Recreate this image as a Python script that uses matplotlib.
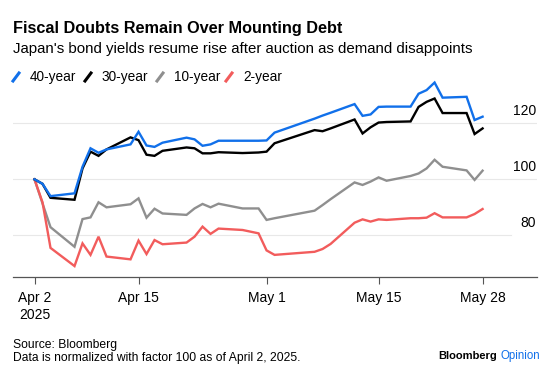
import pandas as pd
import matplotlib
matplotlib.use("Agg")
import matplotlib.pyplot as plt
from matplotlib.lines import Line2D

plt.rcParams['font.family'] = ['Liberation Sans', 'DejaVu Sans']

# trading days (Japan), Apr 2 - May 28 2025
dates = ["2025-04-02", "2025-04-03", "2025-04-04", "2025-04-07", "2025-04-08", "2025-04-09",
         "2025-04-10", "2025-04-11", "2025-04-14", "2025-04-15", "2025-04-16", "2025-04-17",
         "2025-04-18", "2025-04-21", "2025-04-22", "2025-04-23", "2025-04-24", "2025-04-25",
         "2025-04-28", "2025-04-30", "2025-05-01", "2025-05-02", "2025-05-07", "2025-05-08",
         "2025-05-09", "2025-05-12", "2025-05-13", "2025-05-14", "2025-05-15", "2025-05-16",
         "2025-05-19", "2025-05-20", "2025-05-21", "2025-05-22", "2025-05-23", "2025-05-26",
         "2025-05-27", "2025-05-28"]

y40 = [100, 98.4, 94.0, 95.0, 104.5, 111.1, 109.5, 110.7, 112.5, 117.0, 112.1, 111.6,
       113.1, 114.9, 114.3, 112.0, 112.5, 113.8, 113.8, 113.8, 113.9, 116.7, 121.7, 122.8,
       123.8, 126.9, 122.7, 123.2, 125.9, 126.0, 126.0, 130.6, 131.9, 134.6, 129.2, 129.5,
       121.2, 122.4]
y30 = [100, 98.4, 93.4, 92.7, 103.9, 109.9, 108.4, 110.7, 115.0, 114.0, 108.8, 108.4,
       110.2, 111.4, 111.1, 109.3, 109.3, 109.7, 109.4, 109.6, 109.9, 112.9, 117.6, 117.2,
       118.2, 121.4, 116.4, 118.6, 120.3, 120.5, 120.7, 125.9, 127.7, 128.9, 123.7, 123.7,
       116.2, 118.2]
y10 = [100, 91.4, 82.9, 75.9, 85.8, 86.4, 91.8, 90.0, 91.1, 93.2, 86.3, 89.5,
       87.8, 87.3, 89.6, 91.2, 90.0, 91.3, 89.6, 89.6, 85.5, 86.1, 88.8, 90.8,
       92.9, 98.9, 98.0, 99.2, 100.7, 99.5, 101.2, 102.1, 103.9, 107.0, 104.5, 103.2,
       99.8, 103.1]
y2 = [100, 91.8, 75.5, 69.0, 77.1, 73.0, 79.5, 72.4, 71.4, 78.1, 73.3, 78.3,
      76.8, 77.4, 79.5, 83.1, 80.5, 82.4, 81.9, 80.7, 74.6, 73.0, 74.1, 75.1,
      76.9, 84.5, 85.7, 84.9, 85.7, 85.5, 86.1, 86.1, 86.3, 87.9, 86.4, 86.4,
      87.6, 89.4]

labels = ["40-year", "30-year", "10-year", "2-year"]
colors = ["#1170ea", "#000000", "#8f8f8f", "#f25c5c"]
series = [y40, y30, y10, y2]

yticks = [80, 100, 120]
xticks = ["2025-04-02", "2025-04-15", "2025-05-01", "2025-05-15", "2025-05-28"]
xticklabels = ["Apr 2\n2025", "Apr 15", "May 1", "May 15", "May 28"]

df = pd.DataFrame({"date": pd.to_datetime(dates)})

fig = plt.figure(figsize=(5.51, 3.72), dpi=100)
ax = fig.add_axes([12.5 / 551, 1 - 276.7 / 372, 524.5 / 551, (276.7 - 75) / 372])

# gridlines + right-side labels sitting above them
for v in yticks:
    xmax = 0.95 if v == 80 else 1.0
    ax.axhline(v, xmin=0, xmax=xmax, color="#e8e8e8", lw=0.8, zorder=0)
    ax.annotate(str(v), xy=(1.0, v), xycoords=("axes fraction", "data"),
                xytext=(-1, 12), textcoords="offset pixels", ha="right", va="center",
                fontsize=10, color="#000000")

# 10y, 2y first, then 30y, 40y on top
for i in [2, 3, 1, 0]:
    ax.plot(df["date"], series[i], color=colors[i], lw=1.7, solid_joinstyle="miter", zorder=3)

start = pd.Timestamp("2025-04-02")
ax.set_xlim(start - pd.Timedelta(days=2.75), start + pd.Timedelta(days=62.8))
ax.set_ylim(65.2, 137.3)

ax.set_xticks(pd.to_datetime(xticks))
ax.set_xticklabels(xticklabels, fontsize=10, linespacing=1.3)
ax.tick_params(axis="x", length=5, width=0.8, color="#555555", pad=5)
ax.set_yticks([])
for s in ["top", "right", "left"]:
    ax.spines[s].set_visible(False)
ax.spines["bottom"].set_color("#555555")
ax.spines["bottom"].set_linewidth(0.9)

# header
fig.text(13 / 551, 1 - 29 / 372, "Fiscal Doubts Remain Over Mounting Debt",
         fontsize=11.7, fontweight="bold", va="center", ha="left")
fig.text(13 / 551, 1 - 49.5 / 372, "Japan's bond yields resume rise after auction as demand disappoints",
         fontsize=10.8, va="center", ha="left")

# legend with slash markers
leg_x = [13, 85, 157, 226]
for lx, lab, c in zip(leg_x, labels, colors):
    fig.add_artist(Line2D([lx / 551, (lx + 6) / 551], [1 - 81 / 372, 1 - 73 / 372],
                          color=c, lw=2.2, transform=fig.transFigure))
    fig.text((lx + 17) / 551, 1 - 77 / 372, lab, fontsize=9.8, va="center", ha="left")

# footer
fig.text(13 / 551, 1 - 345 / 372, "Source: Bloomberg", fontsize=8.7, va="center", ha="left")
fig.text(13 / 551, 1 - 357.5 / 372, "Data is normalized with factor 100 as of April 2, 2025.",
         fontsize=8.7, va="center", ha="left")
fig.text(540 / 551, 1 - 356 / 372, "Opinion", fontsize=8.3, va="center", ha="right",
         color="#1170ea")
fig.text(497 / 551, 1 - 356 / 372, "Bloomberg", fontsize=8, fontweight="bold",
         va="center", ha="right")

fig.savefig("out.png", dpi=100)
